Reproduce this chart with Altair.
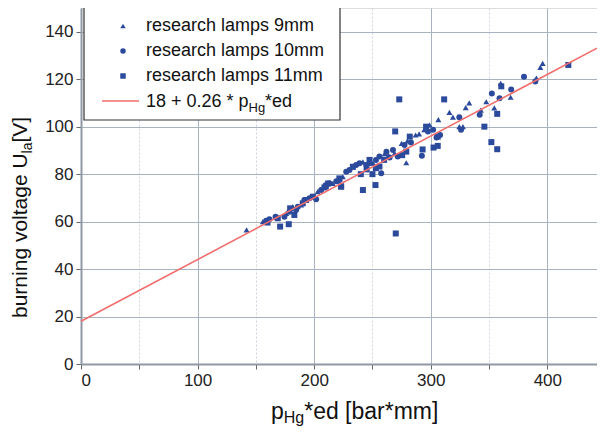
import altair as alt
import pandas as pd

# ---------------- data ----------------
series_names = ["research lamps 9mm", "research lamps 10mm", "research lamps 11mm"]

x9 = [142, 156, 167, 176, 181.7, 188.8, 203, 216, 224.6, 233, 241.8, 250.5, 260.5, 263.7,
      269, 279, 280, 287, 294.4, 299, 306.5, 316, 319, 324.5, 327.6, 330, 333, 343, 347.6,
      354.5, 360, 368.5, 390.6, 394, 396, 290, 275]
y9 = [56.5, 60, 62, 63.5, 66.3, 67, 72.6, 76.1, 78.9, 83, 85.2, 84.6, 88.6, 87.9,
      88.8, 84.8, 94, 96.5, 98.7, 100.7, 103, 106, 104, 100, 100, 108, 110, 107, 110.5,
      107.9, 118.3, 112.4, 120.5, 125, 126.7, 97, 93]

x10 = [158.8, 161.6, 166.9, 174.5, 178.8, 184.5, 186, 191.6, 196, 201.7, 206, 210.3, 213.1,
       221.7, 227.5, 230.3, 236, 244.6, 247.5, 253, 256, 262, 264.7, 267.6, 271.7, 277.5,
       283, 292.4, 297.6, 302, 305, 308, 324.5, 326, 342, 352.4, 359, 369, 380, 389.7,
       238.9, 219, 257.5]
y10 = [60.4, 61, 62, 62, 64.2, 64.9, 66.3, 69.1, 69.8, 69.4, 73.3, 75.4, 76.1,
       77.5, 81, 81.7, 83.8, 83.8, 84.6, 86, 87.4, 89.4, 87, 90.2, 87.4, 92.3,
       93.3, 87.7, 98, 98.7, 95.4, 96.5, 104, 98.7, 105, 114, 112, 115.7, 121, 119,
       84.6, 77, 80.4]

x11 = [160, 168.8, 170.8, 178.2, 179.4, 183, 190.2, 193.1, 198.9, 208.8, 223.2, 233.2,
       241.8, 250, 252.6, 253, 256, 270, 269.5, 273, 275.5, 279, 282, 293, 296, 302.4,
       306, 306, 311.5, 346, 352, 357, 357, 360.5, 418, 212, 221.6, 223, 210, 240, 245,
       247.5, 260]
y11 = [59.6, 61.4, 57.9, 58.9, 65.6, 62.8, 67.7, 69.1, 70.5, 74.4, 74.7, 83.1,
       73.3, 80, 75.4, 82.5, 83.2, 55, 98, 111.5, 88, 89.5, 95.8, 90.4, 100, 91.2,
       91.9, 95.8, 111.5, 100, 93.5, 90.5, 105.4, 117, 126, 76.1, 78.2, 74.9, 74.9, 80, 82,
       86, 86]

fit_intercept = 18
fit_slope = 0.26

x_domain = [0, 442.6]
y_domain = [0, 150]
fit_x = x_domain
x_ticks = [0, 50, 100, 150, 200, 250, 300, 350, 400]
y_ticks = [0, 10, 20, 30, 40, 50, 60, 70, 80, 90, 100, 110, 120, 130, 140, 150]

# ---------------- styling ----------------
FONT = "Liberation Sans"
BLUE = "#2b4a9c"
RED = "#f26d6d"
W, H = 516, 356
PAD_LEFT = 73

pts = pd.concat([
    pd.DataFrame({"x": x9, "y": y9, "s": series_names[0]}),
    pd.DataFrame({"x": x10, "y": y10, "s": series_names[1]}),
    pd.DataFrame({"x": x11, "y": y11, "s": series_names[2]}),
], ignore_index=True)

major_x = "datum.value % 100 === 0"
major_y = "datum.value % 20 === 0"


def axis(values, test):
    return alt.Axis(
        values=values, title=None, grid=True,
        gridColor={"condition": {"test": test, "value": "#a9b3c0"}, "value": "#cdd4de"},
        gridDash={"condition": {"test": test, "value": []}, "value": [2, 2]},
        gridWidth=1,
        labelExpr=f"{test} ? datum.label : ''",
        labelFont=FONT, labelFontSize=17, labelColor="#222",
        tickColor="#666", tickSize=5, tickWidth=1,
        domainColor="#8f99a6", domainWidth=2, labelPadding=3,
    )


xs = alt.Scale(domain=x_domain, nice=False, zero=False)
ys = alt.Scale(domain=y_domain, nice=False)

points = alt.Chart(pts).mark_point(filled=True, size=36, opacity=1, color=BLUE).encode(
    x=alt.X("x:Q", scale=xs, axis=axis(x_ticks, major_x)),
    y=alt.Y("y:Q", scale=ys, axis=axis(y_ticks, major_y)),
    shape=alt.Shape("s:N", scale=alt.Scale(domain=series_names,
                                             range=["triangle-up", "circle", "square"]),
                    legend=None),
)

fit = alt.Chart(pd.DataFrame({"x": fit_x})).transform_calculate(
    y=f"{fit_intercept} + {fit_slope} * datum.x"
).mark_line(color=RED, strokeWidth=1.6).encode(
    x=alt.X("x:Q", scale=xs), y=alt.Y("y:Q", scale=ys)
)

# ---------------- legend (drawn by hand for the subscript) ----------------
one = pd.DataFrame({"t": [""]})
box = alt.Chart(one).mark_rect(fill="white", stroke="#333", strokeWidth=1.2).encode(
    x=alt.value(3), x2=alt.value(259), y=alt.value(-1), y2=alt.value(112))

rows_y = [18, 43, 68, 93]
shapes = ["triangle-up", "circle", "square"]
legend_layers = [box]
for i, name in enumerate(series_names):
    legend_layers.append(
        alt.Chart(one).mark_point(filled=True, size=30, opacity=1, color=BLUE,
                                  shape=shapes[i]).encode(
            x=alt.value(42), y=alt.value(rows_y[i])))
    legend_layers.append(
        alt.Chart(pd.DataFrame({"t": [name]})).mark_text(
            align="left", baseline="middle", font=FONT, fontSize=18, color="#111").encode(
            x=alt.value(65), y=alt.value(rows_y[i]), text="t:N"))

legend_layers.append(
    alt.Chart(one).mark_rule(color=RED, strokeWidth=1.6).encode(
        x=alt.value(21), x2=alt.value(58), y=alt.value(rows_y[3])))


def txt(s, x, y, size, angle=0, base="alphabetic"):
    return alt.Chart(pd.DataFrame({"t": [s]})).mark_text(
        align="left", baseline=base, font=FONT, fontSize=size, color="#111",
        angle=angle).encode(x=alt.value(x), y=alt.value(y), text="t:N")


ly = rows_y[3] + 6
legend_layers += [
    txt("18 + 0.26 * p", 65, ly, 18),
    txt("Hg", 65 + 102.5, ly + 5, 13),
    txt("*ed", 65 + 102.5 + 16.6, ly, 18),
]

# ---------------- axis titles with subscripts ----------------
tx, ty = 190, 411
titles = [
    txt("p", tx, ty, 23),
    txt("Hg", tx + 12.8, ty + 4, 16),
    txt("*ed [bar*mm]", tx + 12.8 + 20.4, ty, 23),
]
yx, yy = -54, 310
titles += [
    txt("burning voltage U", yx, yy, 21, angle=270),
    txt("la", yx + 5, yy - 164.6, 14, angle=270),
    txt(" [V]", yx, yy - 164.6 - 10.9, 21, angle=270),
]

chart = alt.layer(points, fit, *legend_layers, *titles).properties(
    width=W, height=H,
    autosize=alt.AutoSizeParams(type="none"),
    padding={"left": PAD_LEFT, "top": 0, "right": 0, "bottom": 64},
).configure_view(stroke=None).configure(background="white")

chart.save("out.html", embed_options={"renderer": "svg", "actions": False})
